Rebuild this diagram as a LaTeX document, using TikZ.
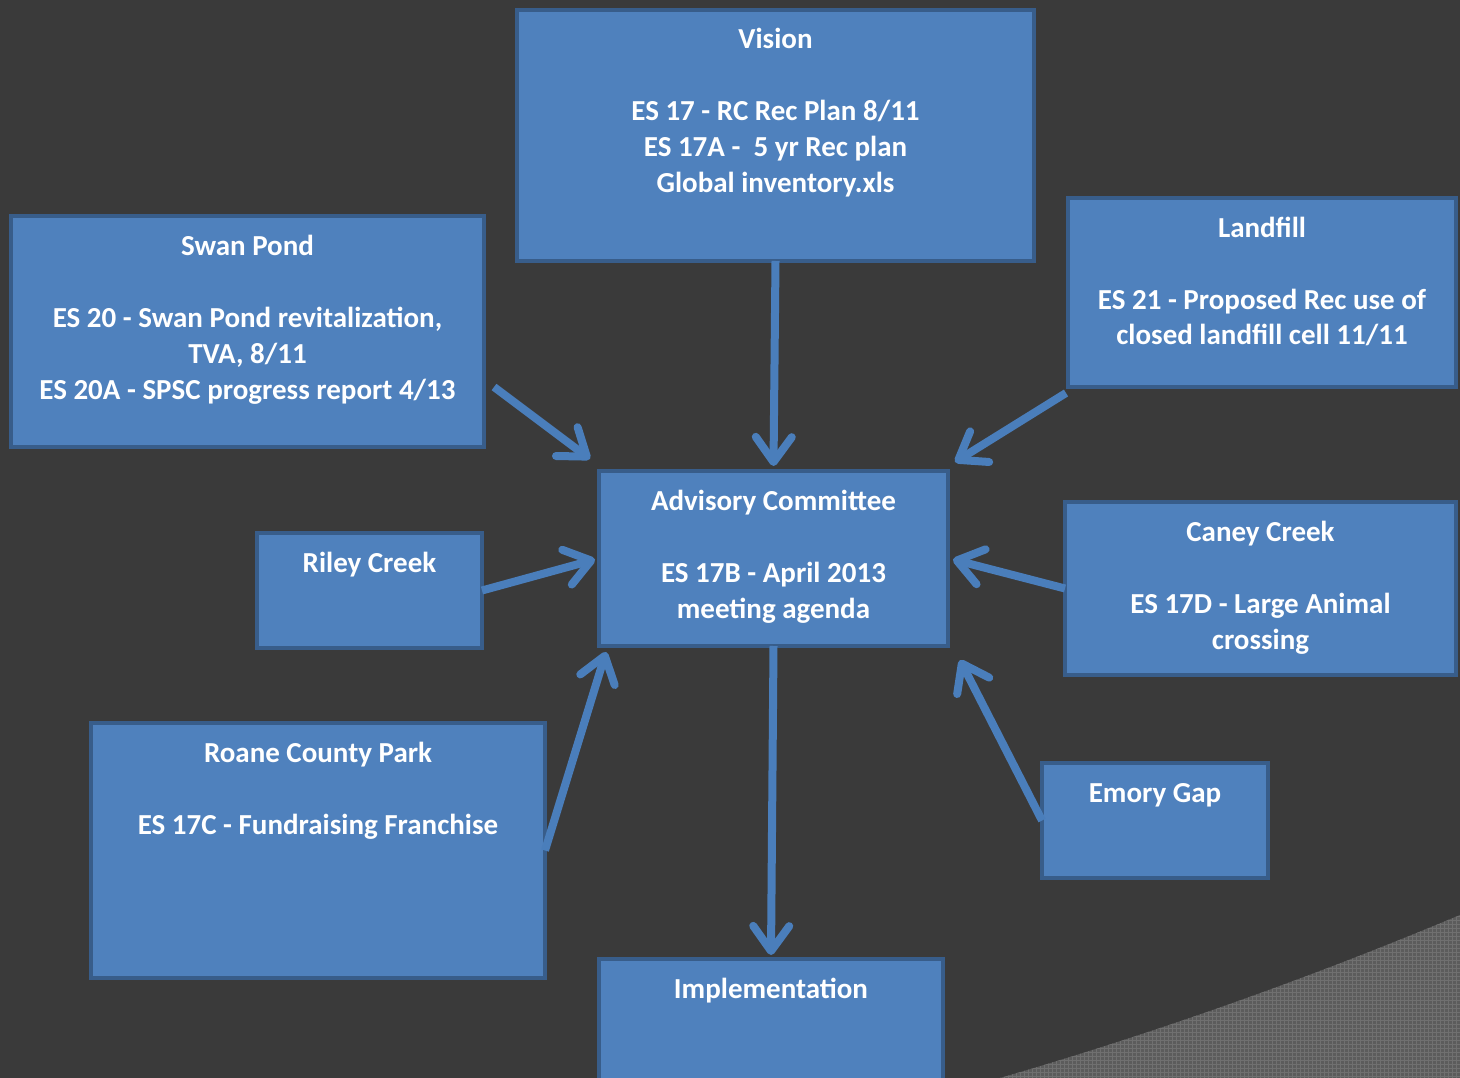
\documentclass[tikz,border=0pt]{standalone}
\usepackage{fontspec}
\setmainfont{Carlito}
\usetikzlibrary{calc,arrows.meta}
\definecolor{bgdark}{RGB}{58,58,58}
\definecolor{bgtex}{RGB}{92,92,92}
\definecolor{gridgray}{RGB}{112,112,112}
\definecolor{boxfill}{RGB}{79,129,189}
\definecolor{boxedge}{RGB}{56,93,138}
\definecolor{arrowblue}{RGB}{74,126,187}
\newcommand{\boxtext}[3]
{   \parbox[c][#2pt][t]{#1pt}{\centering\rule{0pt}{39pt}#3}
}
\tikzset{
  panel/.style={draw=boxedge, line width=3.5pt, fill=boxfill, inner sep=0pt, outer sep=0pt,
    anchor=north west, text=white, font=\fontsize{29}{36}\selectfont\bfseries},
  feed/.style={draw=arrowblue, line width=8pt,
    -{Straight Barb[length=25pt,width=36pt,line cap=round,line join=round]}}
}
\begin{document}
\begin{tikzpicture}[x=1pt,y=-1pt]

 \fill[bgdark] (0,0) rectangle (1460,1078);
 \useasboundingbox (0,0) rectangle (1460,1078);
 \clip (0,0) rectangle (1460,1078);
 % textured corner
 \begin{scope}
   \clip (1000,1078) .. controls (1155,1033) and (1310,978) .. (1460,915) -- (1460,1078) -- cycle;
   \fill[bgtex] (990,900) rectangle (1460,1078);
   \draw[gridgray, line width=0.5pt, step=4pt] (990,900) grid (1460,1078);
 \end{scope}

 \node[panel] (vision) at (517,10) {\boxtext{517}{251}{Vision\\[36pt]ES 17 - RC Rec Plan 8/11\\ES 17A -\ \ 5 yr Rec plan\\Global inventory.xls}};
 \node[panel] (swan) at (11,216) {\boxtext{473}{231}{Swan Pond\\[36pt]ES 20 - Swan Pond revitalization,\\TVA, 8/11\\ES 20A - SPSC progress report 4/13}};
 \node[panel] (landfill) at (1068,198) {\boxtext{388}{189}{Landfill\\[36pt]ES 21 - Proposed Rec use of\\closed landfill cell 11/11}};
 \node[panel] (adv) at (599,471) {\boxtext{349}{175}{Advisory Committee\\[36pt]ES 17B - April 2013\\meeting agenda}};
 \node[panel] (riley) at (257,533) {\boxtext{225}{115}{Riley Creek}};
 \node[panel] (caney) at (1065,502) {\boxtext{391}{173}{Caney Creek\\[36pt]ES 17D - Large Animal\\crossing}};
 \node[panel] (roane) at (91,723) {\boxtext{454}{255}{Roane County Park\\[36pt]ES 17C - Fundraising Franchise}};
 \node[panel] (emory) at (1042,763) {\boxtext{226}{115}{Emory Gap}};
 \node[panel] (impl) at (599,959) {\boxtext{344}{141}{Implementation}};

 \draw[feed] (vision.south) -- ($(adv.north)+(0,-5)$);
 \draw[feed] ($(swan.south east)+(10,-60)$) -- ($(adv.north west)+(-9,-12)$);
 \draw[feed] ($(landfill.south west)+(-2,6)$) -- ($(adv.north east)+(7,-9)$);
 \draw[feed] (riley.east) -- ($(adv.west)+(-4,1)$);
 \draw[feed] (caney.west) -- ($(adv.east)+(5,1)$);
 \draw[feed] (roane.east) -- ($(adv.south west)+(7,6)$);
 \draw[feed] (emory.west) -- ($(adv.south east)+(12,14)$);
 \draw[feed] (adv.south) -- ($(impl.north)+(0,-4)$);

\end{tikzpicture}
\end{document}
